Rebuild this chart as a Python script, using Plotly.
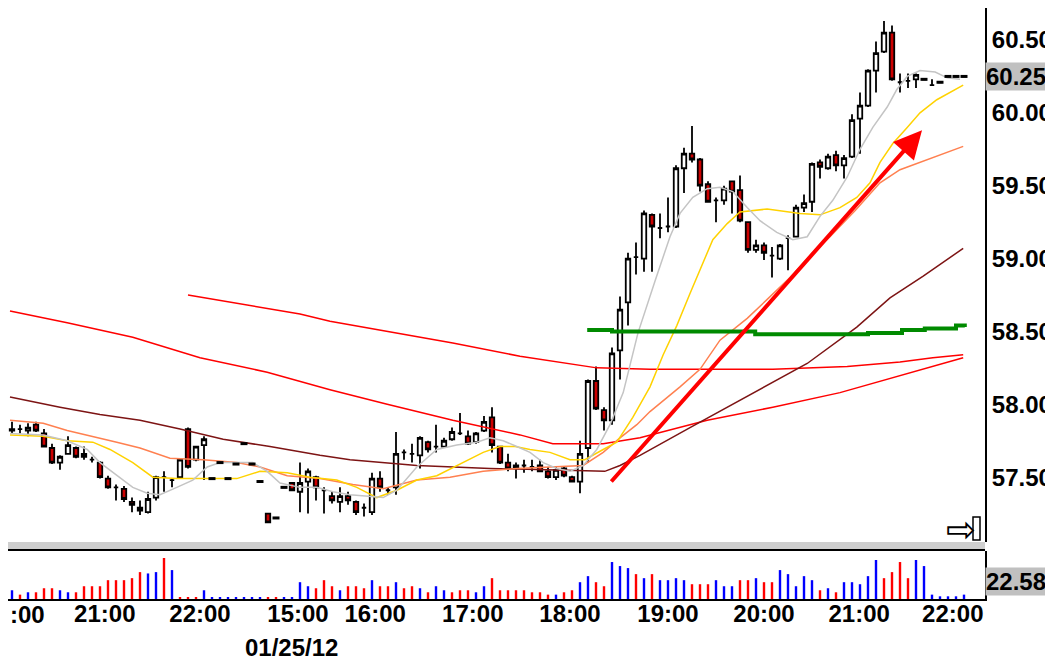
import plotly.graph_objects as go
from plotly.subplots import make_subplots

# 5-minute bars, numbered 0..119 left to right
bar_open = [57.82, 57.83, 57.82, 57.86, 57.80, 57.70, 57.60, 57.66, 57.70, 57.64,
            57.62, 57.60, 57.49, 57.43, 57.42, 57.33, 57.29, 57.26, 57.36, 57.50,
            57.48, 57.50, 57.83, 57.62, 57.72, 57.49, 57.60, 57.49, 57.59, 57.73,
            57.59, 57.47, 57.25, 57.22, 57.43, 57.46, 57.40, 57.47, 57.50, 57.41,
            57.37, 57.33, 57.37, 57.33, 57.29, 57.26, 57.49, 57.41, 57.43, 57.67,
            57.66, 57.65, 57.74, 57.71, 57.71, 57.76, 57.80, 57.78, 57.74, 57.82,
            57.91, 57.71, 57.60, 57.56, 57.58, 57.57, 57.58, 57.54, 57.50, 57.56,
            57.50, 57.47, 57.70, 58.16, 57.96, 57.89, 58.37, 58.70, 59.01, 59.00,
            59.30, 59.21, 59.22, 59.22, 59.62, 59.72, 59.68, 59.51, 59.40, 59.40,
            59.53, 59.47, 59.25, 59.06, 59.09, 59.02, 59.00, 59.14, 59.15, 59.35,
            59.39, 59.66, 59.62, 59.71, 59.64, 59.70, 59.96, 60.05, 60.29, 60.42,
            60.55, 60.21, 60.22, 60.23, 60.23, 60.19, 60.21, 60.25, 60.25, 60.25]
bar_high = [57.88, 57.86, 57.87, 57.88, 57.83, 57.73, 57.65, 57.78, 57.71, 57.71,
            57.64, 57.61, 57.51, 57.45, 57.44, 57.36, 57.34, 57.40, 57.51, 57.54,
            57.49, 57.63, 57.84, 57.71, 57.78, 57.49, 57.60, 57.49, 57.59, 57.73,
            57.59, 57.47, 57.25, 57.22, 57.43, 57.46, 57.60, 57.56, 57.51, 57.43,
            57.40, 57.43, 57.40, 57.34, 57.32, 57.53, 57.54, 57.43, 57.81, 57.69,
            57.73, 57.78, 57.75, 57.86, 57.77, 57.84, 57.94, 57.82, 57.81, 57.92,
            57.98, 57.71, 57.66, 57.60, 57.62, 57.62, 57.62, 57.57, 57.57, 57.57,
            57.51, 57.75, 58.17, 58.26, 57.98, 58.39, 58.74, 59.04, 59.11, 59.33,
            59.31, 59.31, 59.42, 59.64, 59.76, 59.91, 59.69, 59.53, 59.42, 59.50,
            59.53, 59.57, 59.25, 59.13, 59.11, 59.08, 59.10, 59.16, 59.37, 59.44,
            59.66, 59.68, 59.72, 59.74, 59.71, 59.99, 60.14, 60.30, 60.49, 60.63,
            60.60, 60.27, 60.27, 60.27, 60.23, 60.23, 60.21, 60.25, 60.25, 60.25]
bar_low = [57.80, 57.80, 57.78, 57.81, 57.71, 57.59, 57.55, 57.66, 57.63, 57.62,
           57.60, 57.49, 57.42, 57.34, 57.33, 57.26, 57.24, 57.25, 57.34, 57.40,
           57.43, 57.49, 57.56, 57.61, 57.48, 57.49, 57.60, 57.49, 57.59, 57.73,
           57.59, 57.47, 57.19, 57.22, 57.43, 57.41, 57.26, 57.25, 57.34, 57.25,
           57.32, 57.26, 57.31, 57.24, 57.23, 57.24, 57.40, 57.38, 57.38, 57.62,
           57.60, 57.56, 57.67, 57.67, 57.71, 57.75, 57.79, 57.72, 57.73, 57.81,
           57.67, 57.59, 57.54, 57.49, 57.53, 57.54, 57.54, 57.49, 57.48, 57.50,
           57.47, 57.39, 57.60, 57.96, 57.82, 57.86, 58.17, 58.54, 58.89, 58.91,
           58.91, 59.14, 59.18, 59.21, 59.45, 59.66, 59.46, 59.39, 59.25, 59.37,
           59.31, 59.25, 59.04, 59.04, 58.99, 58.87, 58.99, 58.92, 59.15, 59.32,
           59.32, 59.55, 59.61, 59.60, 59.55, 59.69, 59.72, 60.04, 60.14, 60.41,
           60.22, 60.14, 60.17, 60.17, 60.23, 60.19, 60.21, 60.25, 60.25, 60.25]
bar_close = [57.83, 57.83, 57.84, 57.82, 57.71, 57.60, 57.64, 57.72, 57.64, 57.66,
             57.62, 57.50, 57.43, 57.43, 57.35, 57.31, 57.27, 57.35, 57.50, 57.50,
             57.48, 57.62, 57.57, 57.71, 57.76, 57.49, 57.60, 57.49, 57.59, 57.73,
             57.59, 57.47, 57.19, 57.22, 57.43, 57.41, 57.46, 57.54, 57.43, 57.41,
             57.34, 57.37, 57.34, 57.26, 57.29, 57.49, 57.43, 57.41, 57.66, 57.67,
             57.66, 57.77, 57.69, 57.71, 57.75, 57.81, 57.80, 57.73, 57.80, 57.88,
             57.72, 57.60, 57.56, 57.58, 57.58, 57.57, 57.54, 57.50, 57.55, 57.51,
             57.47, 57.66, 58.16, 57.97, 57.89, 58.35, 58.65, 59.00, 59.01, 59.31,
             59.22, 59.21, 59.22, 59.62, 59.72, 59.68, 59.50, 59.39, 59.40, 59.48,
             59.46, 59.26, 59.06, 59.09, 59.04, 59.02, 59.09, 59.14, 59.35, 59.38,
             59.65, 59.63, 59.70, 59.64, 59.69, 59.95, 60.05, 60.29, 60.41, 60.55,
             60.23, 60.21, 60.22, 60.26, 60.23, 60.19, 60.21, 60.25, 60.25, 60.25]

volume = [26, 13, 20, 20, 32, 32, 26, 20, 20, 38,
          38, 38, 56, 56, 56, 62, 80, 76, 80, 122,
          86, 6, 6, 6, 26, 6, 6, 6, 6, 6,
          6, 6, 6, 6, 6, 6, 50, 38, 32, 56,
          38, 26, 38, 38, 32, 56, 38, 38, 50, 32,
          38, 32, 20, 38, 26, 20, 26, 26, 20, 38,
          62, 26, 26, 26, 26, 20, 20, 13, 13, 20,
          26, 50, 68, 50, 38, 110, 98, 92, 74, 62,
          74, 56, 56, 62, 56, 44, 44, 44, 56, 38,
          38, 56, 56, 62, 50, 50, 86, 74, 38, 68,
          56, 26, 32, 20, 50, 50, 44, 68, 116, 62,
          80, 110, 62, 116, 98, 13, 8, 8, 8, 13]
# 1 = blue (up) bar, 0 = red (down) bar
volume_up = [1, 0, 1, 0, 0, 0, 1, 1, 0, 0,
             0, 0, 0, 0, 0, 0, 0, 1, 1, 0,
             1, 0, 0, 0, 1, 1, 1, 1, 1, 1,
             1, 1, 0, 0, 1, 1, 1, 1, 0, 0,
             0, 1, 0, 0, 0, 1, 0, 0, 1, 0,
             0, 1, 0, 1, 1, 0, 0, 0, 1, 1,
             0, 0, 0, 0, 0, 0, 0, 0, 1, 0,
             0, 1, 1, 0, 0, 1, 1, 1, 0, 1,
             0, 1, 1, 1, 1, 0, 0, 0, 1, 1,
             1, 0, 0, 1, 0, 0, 1, 1, 1, 1,
             1, 0, 1, 0, 1, 1, 1, 1, 1, 0,
             0, 0, 0, 1, 1, 1, 1, 1, 1, 1]

# overlay studies, read at a set of bar positions
fast_x = [-0.25, 3.9, 6.9, 9.4, 11, 13.1, 15.1, 16.9, 18.5, 20.6, 22.6, 24.4, 26, 27.6, 30.1,
          31.9, 33.5, 36, 38.1, 40.1, 42.25, 46.4, 48.1, 50.6, 53.1, 55.6, 58.1, 59.75, 61.4,
          63.1, 64.75, 66.4, 68.1, 69.75, 71.4, 73.1, 74.75, 76.4, 78.25, 80.4, 82.25, 83.5,
          85.1, 86.9, 88.5, 90.1, 91.9, 93.5, 95.6, 97.6, 99.4, 101, 102.6, 104.4, 106, 107.6,
          109.4, 110.6, 111.9, 113.5, 115.4, 116.9, 118.5]
fast_y = [57.80, 57.79, 57.75, 57.69, 57.60, 57.51, 57.43, 57.39, 57.38, 57.43, 57.48, 57.57,
          57.60, 57.60, 57.60, 57.54, 57.46, 57.43, 57.43, 57.40, 57.38, 57.36, 57.41, 57.57,
          57.69, 57.72, 57.74, 57.77, 57.75, 57.71, 57.67, 57.60, 57.56, 57.54, 57.58, 57.69,
          57.86, 58.08, 58.49, 58.85, 59.15, 59.31, 59.42, 59.48, 59.49, 59.46, 59.35, 59.26,
          59.18, 59.13, 59.15, 59.29, 59.40, 59.56, 59.75, 59.90, 60.04, 60.16, 60.25, 60.29,
          60.28, 60.24, 60.23]

yellow_x = [-0.25, 3.9, 6.9, 10.1, 12.25, 15.1, 17.6, 20.6, 24.75, 28.1, 31, 34.4, 37.25, 40.6,
            43.1, 45.6, 48.1, 50.6, 53.1, 56.4, 58.9, 61, 62.9, 64.75, 67.25, 69.75, 71.6, 73.9,
            75.6, 77.6, 79.75, 81.4, 83.1, 84.75, 86, 87.6, 89.4, 91, 94.4, 98.5, 101, 103.5,
            105.6, 107.25, 108.5, 110.1, 111.9, 113.5, 115.6, 117.25, 118.9]
yellow_y = [57.79, 57.78, 57.75, 57.74, 57.69, 57.60, 57.50, 57.49, 57.49, 57.49, 57.54, 57.53,
            57.50, 57.48, 57.43, 57.36, 57.41, 57.48, 57.51, 57.60, 57.67, 57.71, 57.71, 57.69,
            57.67, 57.62, 57.62, 57.69, 57.74, 57.91, 58.12, 58.34, 58.54, 58.76, 58.92, 59.13,
            59.24, 59.32, 59.34, 59.31, 59.30, 59.35, 59.42, 59.52, 59.66, 59.79, 59.90, 60.00,
            60.09, 60.14, 60.19]

orange_x = [-0.25, 3.9, 6.9, 10.1, 13.1, 16, 19.75, 23.9, 28.1, 31, 34.4, 38.5, 42.6, 46.4,
            50.6, 54.75, 58.9, 63.1, 67.25, 71.4, 73.9, 76, 78.1, 79.75, 83.5, 86, 88.5, 91.9,
            94.4, 97.25, 100.1, 102.25, 105.4, 108.5, 111, 113.5, 116, 118.9]
orange_y = [57.89, 57.87, 57.82, 57.78, 57.74, 57.70, 57.63, 57.62, 57.60, 57.57, 57.51, 57.49,
            57.45, 57.42, 57.48, 57.50, 57.54, 57.56, 57.57, 57.58, 57.67, 57.77, 57.86, 57.95,
            58.12, 58.24, 58.44, 58.59, 58.72, 58.87, 59.04, 59.15, 59.33, 59.52, 59.61, 59.66,
            59.71, 59.77]

maroon_x = [-0.25, 6, 11, 16, 21, 26.4, 32.25, 38.5, 42.25, 50.6, 59.75, 68.5, 74.1, 76, 78.5,
            84.75, 91, 99.4, 105.6, 109.75, 113.9, 118.9]
maroon_y = [58.05, 57.98, 57.93, 57.89, 57.83, 57.76, 57.71, 57.65, 57.62, 57.58, 57.56, 57.55,
            57.54, 57.58, 57.65, 57.84, 58.03, 58.28, 58.53, 58.73, 58.88, 59.07]

upper_x = [22, 27.6, 31.9, 36, 39.75, 46.9, 55.1, 63.5, 69.75, 73.1, 79.75, 86, 95.1, 104.4,
           111, 115.1, 118.9]
upper_y = [58.75, 58.70, 58.66, 58.62, 58.57, 58.50, 58.42, 58.33, 58.28, 58.25, 58.24, 58.24,
           58.24, 58.26, 58.29, 58.32, 58.34]

lower_x = [-0.25, 6.9, 15.1, 23.5, 31.9, 39.75, 46.9, 55.1, 63.5, 67.6, 73.9, 78.5, 86.9, 95.1,
           103.5, 111.9, 118.9]
lower_y = [58.64, 58.56, 58.46, 58.32, 58.22, 58.10, 58.00, 57.89, 57.79, 57.73, 57.73, 57.77,
           57.89, 57.98, 58.08, 58.21, 58.32]

green_x = [71.9, 75, 92.9, 107, 111.25, 114.1, 118, 119.1]
green_y = [58.51, 58.50, 58.48, 58.49, 58.51, 58.52, 58.54, 58.53]

arrow_from = (74.75, 57.46)
arrow_to = (113.75, 59.88)

tick_pos = [11.6, 23.5, 35.75, 45.4, 57.6, 69.75, 82, 94, 105.9, 117.6]
tick_text = ["21:00", "22:00", "15:00", "16:00", "17:00", "18:00",
             "19:00", "20:00", "21:00", "22:00"]
price_ticks = [57.5, 58.0, 58.5, 59.0, 59.5, 60.0, 60.5]
last_price = 60.25
volume_label = "22.58"
date_label = "01/25/12"

bars = list(range(len(bar_close)))

# the page body puts the figure 8px in from the window corner
OFF = 8
PLOT_H = 599 - OFF
PLOT_W = 985 - OFF


def py(ypix):
    return (599 - ypix) / PLOT_H


def px(xpix):
    return (xpix - OFF) / PLOT_W


lab_font = dict(family="Liberation Sans, Arial", size=24, color="black", weight="bold")

fig = make_subplots(rows=2, cols=1, shared_xaxes=True, vertical_spacing=0)

studies = [
    (upper_x, upper_y, "#ff0000", 1.5, "linear"),
    (lower_x, lower_y, "#ff0000", 1.5, "linear"),
    (maroon_x, maroon_y, "#7d1414", 1.5, "linear"),
    (orange_x, orange_y, "#ff8050", 1.5, "linear"),
    (yellow_x, yellow_y, "#ffd200", 1.5, "linear"),
    (fast_x, fast_y, "#c4c4c4", 1.5, "linear"),
    (green_x, green_y, "#008a00", 4, "hv"),
]
for sx, sy, col, w, shp in studies:
    fig.add_trace(go.Scatter(x=sx, y=sy, mode="lines",
                             line=dict(color=col, width=w, shape=shp),
                             hoverinfo="skip"), row=1, col=1)

fig.add_trace(go.Candlestick(
    x=bars, open=bar_open, high=bar_high, low=bar_low, close=bar_close,
    increasing=dict(line=dict(color="black", width=1.8), fillcolor="white"),
    decreasing=dict(line=dict(color="black", width=1.8), fillcolor="#cc0000"),
    whiskerwidth=0), row=1, col=1)

# bars with no range show as a thick dash
flat = [i for i in bars if bar_high[i] == bar_low[i]]
fig.add_trace(go.Scatter(
    x=flat, y=[bar_close[i] for i in flat], mode="markers",
    marker=dict(symbol="line-ew", size=5, line=dict(color="black", width=3)),
    hoverinfo="skip"), row=1, col=1)

fig.add_trace(go.Bar(
    x=bars, y=volume, width=0.3,
    marker=dict(color=["#0000ff" if u else "#ff0000" for u in volume_up], line_width=0)),
    row=2, col=1)

fig.update_layout(
    width=1053 - OFF, height=660 - OFF,
    margin=dict(l=0, r=68, t=0, b=61),
    paper_bgcolor="white", plot_bgcolor="white",
    showlegend=False, boxgap=0.2,
)
fig.update_xaxes(range=[-0.5, 121.625], showgrid=False, zeroline=False,
                 rangeslider_visible=False, ticks="", ticklen=0)
fig.update_xaxes(showticklabels=False, showline=False, row=1, col=1)
fig.update_xaxes(showline=True, linecolor="black", linewidth=2,
                 tickvals=tick_pos, ticktext=tick_text, tickfont=lab_font,
                 ticklabelstandoff=-8, row=2, col=1)
fig.update_layout(
    yaxis=dict(domain=[py(542), 1], range=[57.055, 60.7196], side="right",
               tickvals=price_ticks, tickformat=".2f", tickfont=lab_font,
               showgrid=False, zeroline=False, showline=True,
               linecolor="black", linewidth=2, ticks="", ticklen=0),
    yaxis2=dict(domain=[0, py(551)], range=[0, 142.8], side="right",
                showticklabels=False, showgrid=False, zeroline=False,
                showline=True, linecolor="black", linewidth=2, ticks=""),
)

fig.add_shape(type="rect", xref="paper", yref="paper", x0=0, x1=1,
              y0=py(549), y1=py(542), fillcolor="#cfcfcf", line_width=0)
fig.add_shape(type="line", xref="paper", yref="paper", x0=0, x1=1,
              y0=py(550), y1=py(550), line=dict(color="black", width=2))
fig.add_shape(type="rect", xref="paper", yref="paper",
              x0=px(973), x1=px(980), y0=py(540), y1=py(517),
              fillcolor="white", line=dict(color="black", width=1.5))

fig.add_annotation(xref="paper", x=1, xanchor="left", yref="y", y=last_price,
                   yanchor="middle", text=f"{last_price:.2f}", showarrow=False,
                   bgcolor="#c0c0c0", font=lab_font, width=66, align="left", borderpad=0)
fig.add_annotation(xref="paper", x=1, xanchor="left", yref="paper", y=py(581),
                   yanchor="middle", text=volume_label, showarrow=False,
                   bgcolor="#c0c0c0", font=lab_font, width=66, align="left", borderpad=0)
fig.add_annotation(xref="paper", x=px(8), xanchor="left", yref="paper", y=py(614),
                   yanchor="middle", text=":00", showarrow=False, font=lab_font)
fig.add_annotation(xref="x2", x=34.9, yref="paper", y=py(647), yanchor="middle",
                   text=date_label, showarrow=False, font=lab_font)
fig.add_annotation(xref="paper", x=px(961), xanchor="center", yref="paper", y=py(529),
                   yanchor="middle", text="⇨", showarrow=False,
                   font=dict(family="DejaVu Sans", size=36, color="black"))
fig.add_annotation(xref="x", yref="y", x=arrow_to[0], y=arrow_to[1],
                   axref="x", ayref="y", ax=arrow_from[0], ay=arrow_from[1],
                   text="", showarrow=True, arrowhead=2, arrowsize=1.4,
                   arrowwidth=4, arrowcolor="#ff0000")

fig.write_html("out.html")
